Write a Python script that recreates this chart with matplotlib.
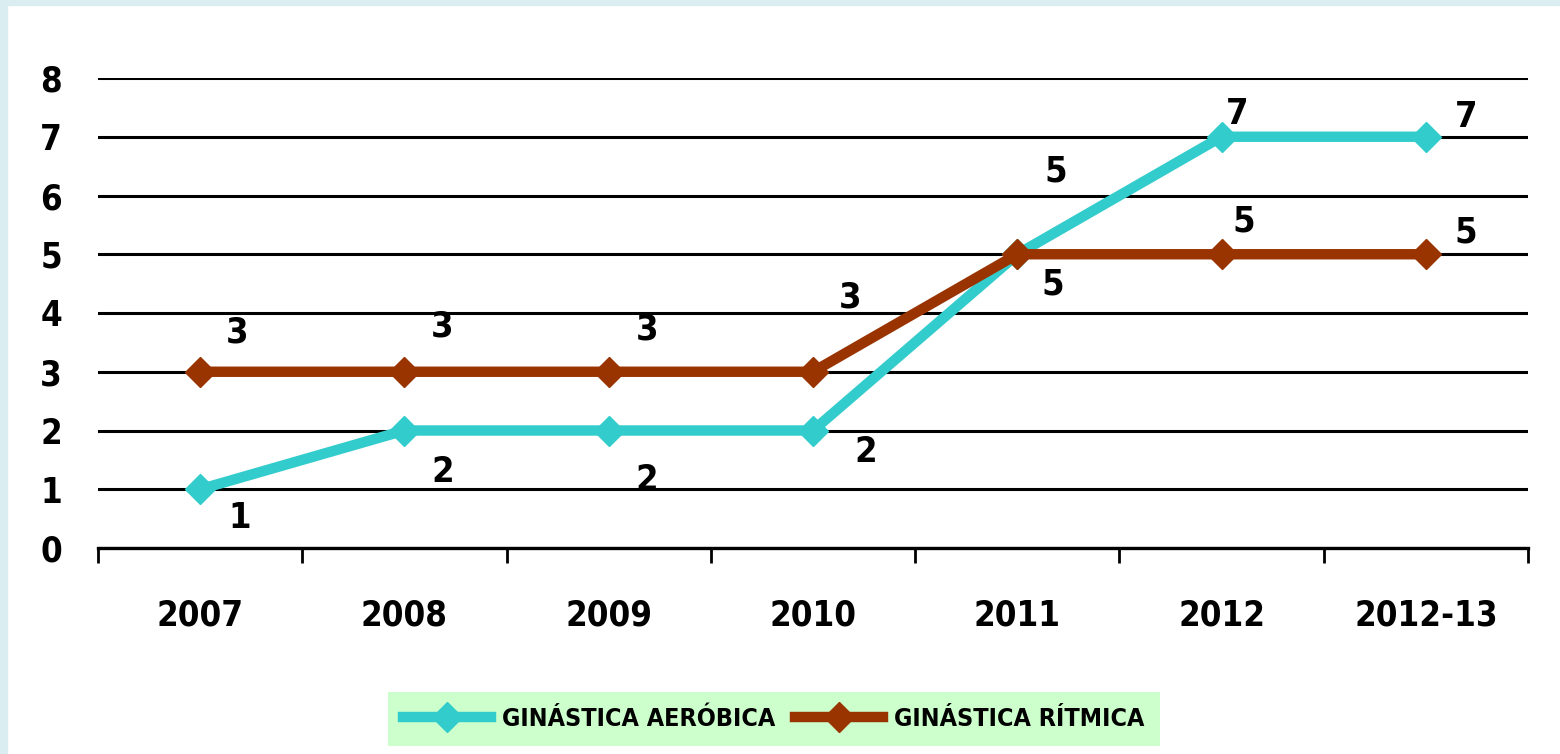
import numpy as np
import matplotlib.pyplot as plt
from matplotlib.patches import Rectangle
from matplotlib.ticker import FixedLocator

plt.rcParams['font.family'] = ['DejaVu Sans']
plt.rcParams['font.stretch'] = 'condensed'
plt.rcParams['font.weight'] = 'bold'

years = ['2007', '2008', '2009', '2010', '2011', '2012', '2012-13']
aerobica = [1, 2, 2, 2, 5, 7, 7]
ritmica = [3, 3, 3, 3, 5, 5, 5]

# label offsets in pixels (dx, dy up)
off_aer = [(40, -29), (38, -42), (38, -50), (53, -21), (38, 83), (16, 23), (40, 20)]
off_rit = [(37, 39), (38, 45), (38, 42), (37, 74), (35, -30), (22, 33), (40, 22)]

cyan = '#33CCCC'
brown = '#993300'

fig = plt.figure(figsize=(15.6, 7.54), dpi=100)
fig.patch.set_facecolor('white')
fig.patches.append(Rectangle((0, 0), 7 / 1560, 1, transform=fig.transFigure, color='#DAEEF1', zorder=0))
fig.patches.append(Rectangle((0, 1 - 5 / 754), 1, 5 / 754, transform=fig.transFigure, color='#DAEEF1', zorder=0))

ax = fig.add_axes([98 / 1560, 206 / 754, 1430 / 1560, 470 / 754])
x = np.arange(len(years))

ax.plot(x, aerobica, color=cyan, lw=7.5, marker='D', markersize=15, label='GINÁSTICA AERÓBICA', zorder=3)
ax.plot(x, ritmica, color=brown, lw=7.5, marker='D', markersize=15, label='GINÁSTICA RÍTMICA', zorder=4)

for i in range(len(years)):
    ax.annotate(str(aerobica[i]), (x[i], aerobica[i]), xytext=off_aer[i], textcoords='offset pixels',
                ha='center', va='center', fontsize=26, fontweight='bold', zorder=5)
    ax.annotate(str(ritmica[i]), (x[i], ritmica[i]), xytext=off_rit[i], textcoords='offset pixels',
                ha='center', va='center', fontsize=26, fontweight='bold', zorder=5)

ax.set_xlim(-0.5, len(years) - 0.5)
ax.set_ylim(0, 8)
ax.set_yticks(range(0, 9))
ax.set_xticks(x)
ax.set_xticklabels(years)
ax.xaxis.set_minor_locator(FixedLocator(np.arange(-0.5, len(years), 1)))
ax.tick_params(axis='x', which='major', length=0, pad=36, labelsize=25)
ax.tick_params(axis='x', which='minor', length=11, width=2, direction='out', color='black')
ax.tick_params(axis='y', length=0, pad=26, labelsize=25)
for lab in ax.get_xticklabels() + ax.get_yticklabels():
    lab.set_fontweight('bold')

ax.grid(axis='y', color='black', lw=2.2, zorder=1)
ax.set_axisbelow(True)
for s in ['top', 'right', 'left']:
    ax.spines[s].set_visible(False)
ax.spines['bottom'].set_linewidth(2.4)
ax.spines['bottom'].set_zorder(2)

leg = fig.legend(loc='center', bbox_to_anchor=(774 / 1560, 1 - 719 / 754), ncol=2, frameon=True,
                 fontsize=18, handlelength=3.5, columnspacing=0.8, handletextpad=0.45, borderpad=0.6,
                 borderaxespad=0, fancybox=False)
leg.get_frame().set_facecolor('#CCFFCC')
leg.get_frame().set_edgecolor('none')
leg.get_frame().set_alpha(1)
for t in leg.get_texts():
    t.set_fontweight('bold')

fig.savefig('out.png', dpi=100, facecolor=fig.get_facecolor())
